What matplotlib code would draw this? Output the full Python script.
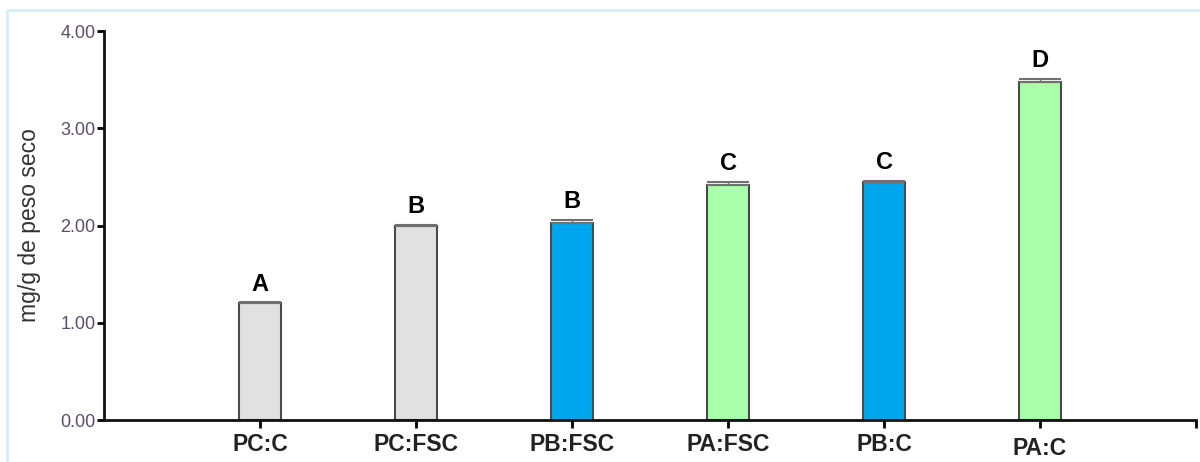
import matplotlib
matplotlib.use('Agg')
import matplotlib.pyplot as plt
from matplotlib.patches import Rectangle

categories = ['PC:C', 'PC:FSC', 'PB:FSC', 'PA:FSC', 'PB:C', 'PA:C']
values = [1.20, 2.00, 2.03, 2.42, 2.45, 3.48]
errors = [0.01, 0.01, 0.03, 0.03, 0.01, 0.03]
letters = ['A', 'B', 'B', 'C', 'C', 'D']
colors = ['#e1e1e1', '#e1e1e1', '#00a6ee', '#aaffaa', '#00a6ee', '#aaffaa']

plt.rcParams['font.family'] = ['Liberation Sans', 'DejaVu Sans']

fig = plt.figure(figsize=(12, 4.62), dpi=100)
ax = fig.add_axes([0.0867, 0.0909, 0.91, 0.8420])

# light frame around the whole graphic
fig.patches.append(Rectangle((7 / 1200, -0.1), 1.2, 1 - 10 / 462 + 0.1,
                             transform=fig.transFigure, fill=False,
                             edgecolor='#d6ecf6', linewidth=2))

x = list(range(len(categories)))
ax.bar(x, values, width=0.27, color=colors, edgecolor='#4a4a4a', linewidth=1.5, zorder=2)
ax.errorbar(x, values, yerr=[[0] * len(x), errors], fmt='none', ecolor='#707070',
            elinewidth=1.0, capsize=15, capthick=1.5, zorder=3)

for xi, v, e, lab in zip(x, values, errors, letters):
    ax.text(xi, v + e + 0.07, lab, ha='center', va='bottom',
            fontsize=17, fontweight='bold', color='black')

ax.set_xlim(-1, 6)
ax.set_ylim(0, 4)
ax.set_yticks([0, 1, 2, 3, 4])
ax.set_yticklabels(['0.00', '1.00', '2.00', '3.00', '4.00'])
ax.set_xticks(x + [6])
ax.set_xticklabels(categories + [''])
for lbl in ax.get_xticklabels():
    lbl.set_fontweight('bold')
ax.get_xticklabels()[5].set_y(-0.012)

ax.tick_params(axis='y', direction='out', length=5, width=2, labelsize=13,
               labelcolor='#5b4d6e', pad=1)
ax.tick_params(axis='x', direction='out', length=6, width=2, labelsize=16.5,
               labelcolor='#222222', pad=3)

for side in ['top', 'right']:
    ax.spines[side].set_visible(False)
for side in ['left', 'bottom']:
    ax.spines[side].set_linewidth(2)
    ax.spines[side].set_color('#111111')

ax.set_ylabel('mg/g de peso seco', fontsize=16.5, color='#333333', labelpad=14)

fig.savefig('out.png', dpi=100)
